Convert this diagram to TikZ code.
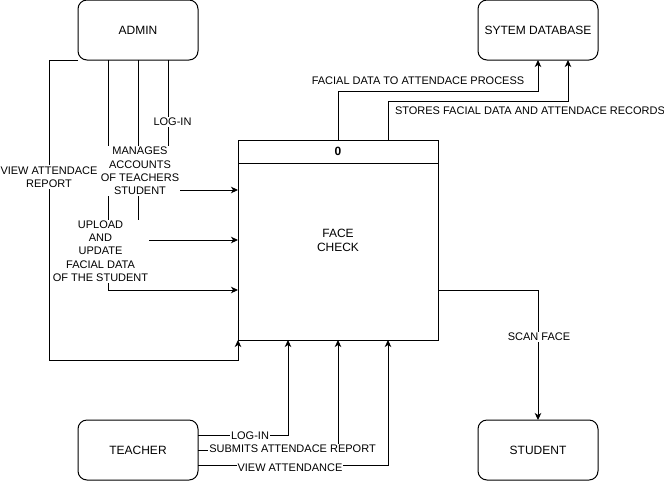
\documentclass[tikz,border=0pt]{standalone}
\usepackage{fontspec}
\setmainfont{Liberation Sans}
\usetikzlibrary{arrows.meta,calc}
\begin{document}
\begin{tikzpicture}[x=1pt,y=-1pt,line width=1pt,
  box/.style={draw,rounded corners=9pt,minimum width=120pt,minimum height=60pt,outer sep=0pt,inner sep=0pt,font=\fontsize{12}{14}\selectfont},
  procbox/.style={draw,minimum width=200pt,minimum height=200pt,outer sep=0pt,inner sep=0pt},
  arr/.style={-{Stealth[length=7pt,width=6.5pt,inset=2pt]}},
  lbl/.style={fill=white,inner sep=1pt,align=center,font=\fontsize{11}{13.3}\selectfont},
  lblplain/.style={inner sep=1pt,align=center,font=\fontsize{11}{13.3}\selectfont}]
\useasboundingbox (0,0) rectangle (664,491);
\node[box] (admin) at (138,30) {ADMIN};
\node[box] (db) at (538,30) {SYTEM DATABASE};
\node[box] (teacher) at (138,450) {TEACHER};
\node[box] (student) at (538,450) {STUDENT};
\node[procbox] (proc) at (338,240) {};
\draw ([yshift=-23pt]proc.north west) -- ([yshift=-23pt]proc.north east);
\node[font=\fontsize{12}{14}\selectfont\bfseries] (pnum) at (338,151.5) {0};
\node[align=center,font=\fontsize{12}{14.5}\selectfont] (pname) at (338,240.5) {FACE\\CHECK};
% admin edges
\draw[arr] (admin.south west) -- ([xshift=-29pt]admin.south west) |- ([yshift=-20pt]proc.south west) -- (proc.south west);
\draw[arr] ([xshift=-30pt]admin.south) |- ([yshift=-50pt]proc.west);
\draw[arr] (admin.south) |- (proc.west);
\draw[arr] ([xshift=30pt]admin.south) |- ([yshift=50pt]proc.west);
% database edges
\draw[arr] (proc.north) |- ([yshift=-31pt]db.south) -- (db.south);
\draw[arr] ([xshift=50pt]proc.north) |- ([xshift=30pt,yshift=-41pt]db.south) -- ([xshift=30pt]db.south);
% student edge
\draw[arr] ([yshift=-50pt]proc.east) -| (student.north);
% teacher edges
\draw[arr] ([yshift=15pt]teacher.east) -| ([xshift=-50pt]proc.south);
\draw[arr] (teacher.east) -| (proc.south);
\draw[arr] ([yshift=-15pt]teacher.east) -| ([xshift=50pt]proc.south);
% labels
\node[lbl] (l1) at (49,177) {VIEW ATTENDACE\\REPORT};
\node[lbl] (l2) at (172.5,122) {LOG-IN};
\node[lbl] (l3) at (140,171) {MANAGES\\ACCOUNTS\\OF TEACHERS\\STUDENT};
\node[lbl] (l4) at (100.5,251) {UPLOAD\\AND\\UPDATE\\FACIAL DATA\\OF THE STUDENT};
\node[lblplain] (l5) at (418,81) {FACIAL DATA TO ATTENDACE PROCESS};
\node[lblplain] (l6) at (530,111) {STORES FACIAL DATA AND ATTENDACE RECORDS};
\node[lbl] (l7) at (539,337) {SCAN FACE};
\node[lbl] (l8) at (250,436) {LOG-IN};
\node[lbl] (l9) at (292.5,449) {SUBMITS ATTENDACE REPORT};
\node[lbl] (l10) at (290,467.5) {VIEW ATTENDANCE};
\end{tikzpicture}
\end{document}
